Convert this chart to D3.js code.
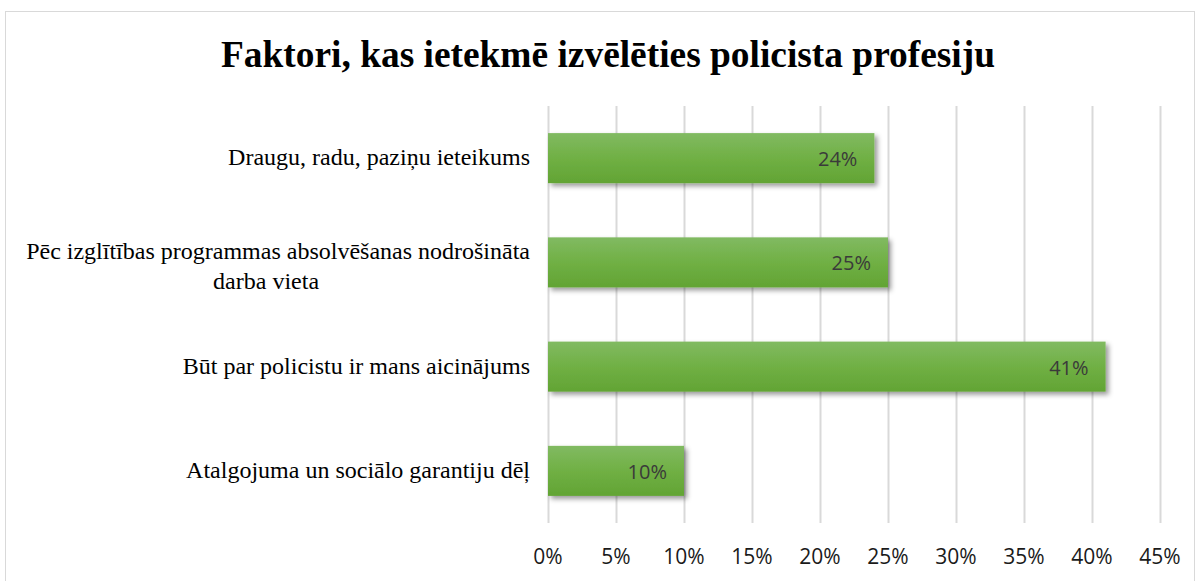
<!DOCTYPE html>
<html>
<head>
  <meta charset="utf-8" />
  <title>Faktori, kas ietekmē izvēlēties policista profesiju</title>
  <style>
    body { margin: 0; background: #fff; }
    svg { display: block; }
  </style>
</head>
<body>
<div id="chart"></div>
<script src="https://d3js.org/d3.v7.min.js"></script>
<script>
  // chart values, top to bottom
  const categories = [
    ["Draugu, radu, paziņu ieteikums"],
    ["Pēc izglītības programmas absolvēšanas nodrošināta", "darba vieta"],
    ["Būt par policistu ir mans aicinājums"],
    ["Atalgojuma un sociālo garantiju dēļ"]
  ];
  const values = [24, 25, 41, 10];
  const ticks = [0, 5, 10, 15, 20, 25, 30, 35, 40, 45];

  const W = 1200, H = 581;
  const svg = d3.select('#chart').append('svg')
    .attr('width', W).attr('height', H);

  const defs = svg.append('defs');
  const grad = defs.append('linearGradient')
    .attr('id', 'barGrad').attr('x1', 0).attr('y1', 0).attr('x2', 0).attr('y2', 1);
  grad.append('stop').attr('offset', '0%').attr('stop-color', '#81ba62');
  grad.append('stop').attr('offset', '50%').attr('stop-color', '#70b044');
  grad.append('stop').attr('offset', '100%').attr('stop-color', '#62a434');

  const shadow = defs.append('filter').attr('id', 'shadow')
    .attr('x', '-5%').attr('y', '-20%').attr('width', '115%').attr('height', '160%');
  shadow.append('feDropShadow')
    .attr('dx', 3).attr('dy', 3).attr('stdDeviation', 2.5)
    .attr('flood-color', '#000').attr('flood-opacity', 0.4);

  // outer chart frame
  svg.append('rect')
    .attr('x', 5.5).attr('y', 11.5).attr('width', 1189).attr('height', 580)
    .attr('fill', 'none').attr('stroke', '#d9d9d9').attr('stroke-width', 1);

  // title
  svg.append('text')
    .attr('x', 608).attr('y', 67)
    .attr('text-anchor', 'middle')
    .attr('font-family', '"Liberation Serif", "Times New Roman", serif')
    .attr('font-weight', 'bold').attr('font-size', 37.4)
    .attr('fill', '#000')
    .text('Faktori, kas ietekmē izvēlēties policista profesiju');

  const x = d3.scaleLinear().domain([0, 45]).range([548, 1160]);
  const y = d3.scaleBand().domain(d3.range(categories.length))
    .range([106, 523]).paddingInner(0.52).paddingOuter(0.26);

  // gridlines
  svg.append('g').selectAll('line')
    .data(ticks).enter().append('line')
    .attr('x1', d => x(d) + 0.5).attr('x2', d => x(d) + 0.5)
    .attr('y1', 106).attr('y2', 523)
    .attr('stroke', '#d9d9d9').attr('stroke-width', 2);

  // x tick labels
  svg.append('g').selectAll('text')
    .data(ticks).enter().append('text')
    .attr('x', d => x(d)).attr('y', 564)
    .attr('text-anchor', 'middle')
    .attr('font-family', '"Open Sans", "Liberation Sans", sans-serif')
    .attr('font-size', 21).attr('fill', '#1a1a1a')
    .text(d => d + '%');

  // bars
  svg.append('g').selectAll('rect')
    .data(values).enter().append('rect')
    .attr('x', x(0))
    .attr('y', (d, i) => y(i))
    .attr('width', d => x(d) - x(0))
    .attr('height', y.bandwidth())
    .attr('fill', 'url(#barGrad)')
    .attr('filter', 'url(#shadow)');

  // data labels
  svg.append('g').selectAll('text')
    .data(values).enter().append('text')
    .attr('x', d => x(d) - 17)
    .attr('y', (d, i) => y(i) + y.bandwidth() / 2 + 8)
    .attr('text-anchor', 'end')
    .attr('font-family', '"Open Sans", "Liberation Sans", sans-serif')
    .attr('font-size', 20).attr('fill', '#3a3a3a')
    .text(d => d + '%');

  // category labels; wrapped lines centred under the first one
  svg.append('g').selectAll('g')
    .data(categories).enter().append('g')
    .each(function(lines, i) {
      const g = d3.select(this);
      const cy = y(i) + y.bandwidth() / 2;
      const base = lines.length > 1 ? cy - 3 : cy + 7;
      const first = g.append('text')
        .attr('x', 530).attr('y', base)
        .attr('text-anchor', 'end')
        .attr('font-family', '"Liberation Serif", "Times New Roman", serif')
        .attr('font-size', 24).attr('fill', '#000')
        .text(lines[0]);
      const w = first.node().getComputedTextLength();
      lines.slice(1).forEach((t, j) => {
        g.append('text')
          .attr('x', 530 - w / 2 - 12).attr('y', base + 30 * (j + 1))
          .attr('text-anchor', 'middle')
          .attr('font-family', '"Liberation Serif", "Times New Roman", serif')
          .attr('font-size', 24).attr('fill', '#000')
          .text(t);
      });
    });
</script>
</body>
</html>
